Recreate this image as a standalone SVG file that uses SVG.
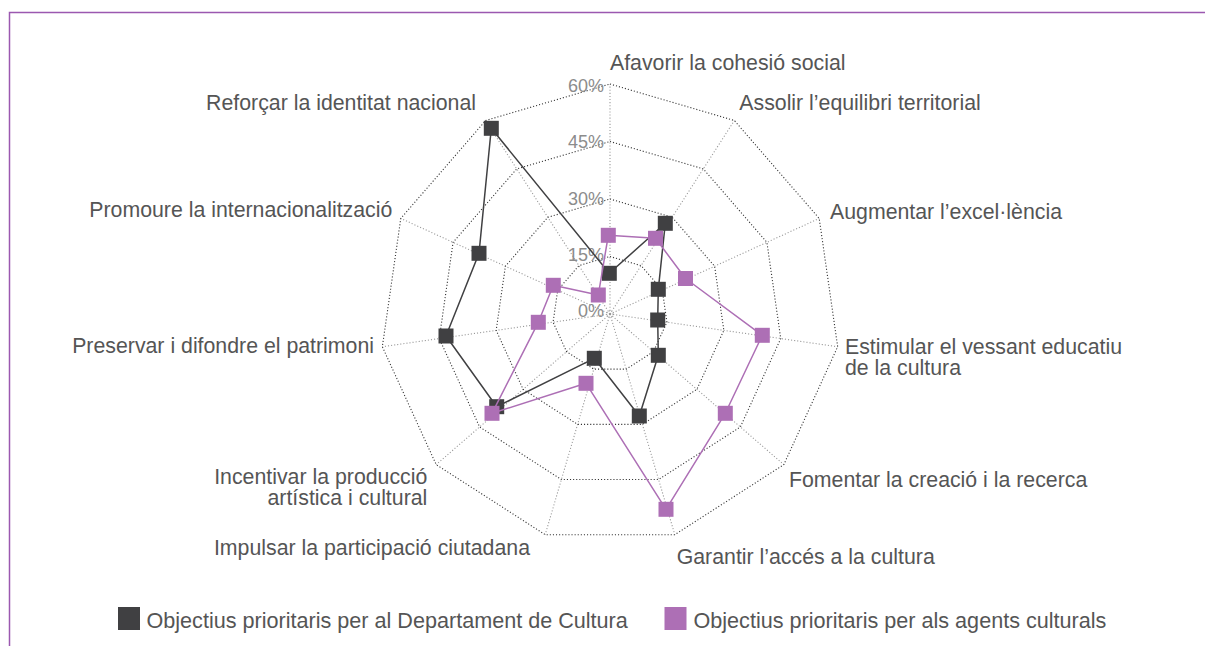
<svg xmlns="http://www.w3.org/2000/svg" width="1205" height="646" viewBox="0 0 1205 646">
<style>
.lbl{font-family:"Liberation Sans",Arial,sans-serif;font-size:21.3px;fill:#555}
.leg{font-family:"Liberation Sans",Arial,sans-serif;font-size:21.6px;fill:#555}
.pct{font-family:"Liberation Sans",Arial,sans-serif;font-size:18px;fill:#8c8c8c;text-anchor:end}
.ring{fill:none;stroke:#333;stroke-width:1.1;stroke-dasharray:1.1 2}
.spoke{stroke:#999;stroke-width:1.1;stroke-dasharray:1.1 2}
.dk{fill:#404042}
.pu{fill:#ad6fb5}
.dkl{fill:none;stroke:#404042;stroke-width:1.5;stroke-linejoin:round}
.pul{fill:none;stroke:#ad6fb5;stroke-width:1.5;stroke-linejoin:round}
.frame{stroke:#9b58b0;stroke-width:1.5;fill:none}
</style>
<rect width="1205" height="646" fill="#fff"/>
<path class="frame" d="M9.5,646 V12.5 H1205"/>

<g id="grid">
<g id="spokes">
<line class="spoke" x1="610" y1="314" x2="610" y2="84"/>
<line class="spoke" x1="610" y1="314" x2="734.35" y2="120.51"/>
<line class="spoke" x1="610" y1="314" x2="819.22" y2="218.45"/>
<line class="spoke" x1="610" y1="314" x2="837.66" y2="346.73"/>
<line class="spoke" x1="610" y1="314" x2="783.82" y2="464.62"/>
<line class="spoke" x1="610" y1="314" x2="674.8" y2="534.68"/>
<line class="spoke" x1="610" y1="314" x2="545.2" y2="534.68"/>
<line class="spoke" x1="610" y1="314" x2="436.18" y2="464.62"/>
<line class="spoke" x1="610" y1="314" x2="382.34" y2="346.73"/>
<line class="spoke" x1="610" y1="314" x2="400.78" y2="218.45"/>
<line class="spoke" x1="610" y1="314" x2="485.65" y2="120.51"/>
</g>
<circle cx="610" cy="314" r="3" fill="none" stroke="#999" stroke-width="1" stroke-dasharray="1 1.5"/>
<polygon class="ring" points="610,256.5 641.09,265.63 662.3,290.11 666.91,322.18 653.46,351.65 626.2,369.17 593.8,369.17 566.54,351.65 553.09,322.18 557.7,290.11 578.91,265.63"/>
<polygon class="ring" points="610,199 672.17,217.26 714.61,266.23 723.83,330.37 696.91,389.31 642.4,424.34 577.6,424.34 523.09,389.31 496.17,330.37 505.39,266.23 547.83,217.26"/>
<polygon class="ring" points="610,141.5 703.26,168.88 766.91,242.34 780.74,338.55 740.37,426.96 658.6,479.51 561.4,479.51 479.63,426.96 439.26,338.55 453.09,242.34 516.74,168.88"/>
<polygon class="ring" points="610,84 734.35,120.51 819.22,218.45 837.66,346.73 783.82,464.62 674.8,534.68 545.2,534.68 436.18,464.62 382.34,346.73 400.78,218.45 485.65,120.51"/>
<g id="scale">
<text class="pct" x="604" y="92">60%</text>
<text class="pct" x="604" y="148">45%</text>
<text class="pct" x="604" y="205">30%</text>
<text class="pct" x="604" y="261">15%</text>
<text class="pct" x="604" y="317">0%</text>
</g>
</g>

<g id="connectors">
<polygon id="line-departament" class="dkl" points="609.3,273.3 665.3,223.3 658.3,289.3 657.7,320 658.3,355.3 639.3,416 594.3,358.3 496.7,406.7 446,336 479,253.3 491.3,128.3"/>
</g>
<g id="series-departament">
<rect class="dk" x="601.8" y="265.8" width="15" height="15"/>
<rect class="dk" x="657.8" y="215.8" width="15" height="15"/>
<rect class="dk" x="650.8" y="281.8" width="15" height="15"/>
<rect class="dk" x="650.2" y="312.5" width="15" height="15"/>
<rect class="dk" x="650.8" y="347.8" width="15" height="15"/>
<rect class="dk" x="631.8" y="408.5" width="15" height="15"/>
<rect class="dk" x="586.8" y="350.8" width="15" height="15"/>
<rect class="dk" x="489.2" y="399.2" width="15" height="15"/>
<rect class="dk" x="438.5" y="328.5" width="15" height="15"/>
<rect class="dk" x="471.5" y="245.8" width="15" height="15"/>
<rect class="dk" x="483.8" y="120.8" width="15" height="15"/>
</g>
<g id="connectors-agents">
<polygon id="line-agents" class="pul" points="608.3,235.3 655.5,238.3 685.5,278.5 762.3,335.3 725.3,413.3 666,509.3 586,383.3 492,413.3 538.3,322.3 553.3,285.3 598.3,295"/>
</g>
<g id="series-agents">
<rect class="pu" x="600.8" y="227.8" width="15" height="15"/>
<rect class="pu" x="648" y="230.8" width="15" height="15"/>
<rect class="pu" x="678" y="271" width="15" height="15"/>
<rect class="pu" x="754.8" y="327.8" width="15" height="15"/>
<rect class="pu" x="717.8" y="405.8" width="15" height="15"/>
<rect class="pu" x="658.5" y="501.8" width="15" height="15"/>
<rect class="pu" x="578.5" y="375.8" width="15" height="15"/>
<rect class="pu" x="484.5" y="405.8" width="15" height="15"/>
<rect class="pu" x="530.8" y="314.8" width="15" height="15"/>
<rect class="pu" x="545.8" y="277.8" width="15" height="15"/>
<rect class="pu" x="590.8" y="287.5" width="15" height="15"/>
</g>

<g id="axis-labels">
<g id="lbl-afavorir"><text class="lbl" x="610" y="70">Afavorir la cohesió social</text></g>
<g id="lbl-assolir"><text class="lbl" x="739.3" y="109.5">Assolir l’equilibri territorial</text></g>
<g id="lbl-augmentar"><text class="lbl" x="830" y="218.5">Augmentar l’excel·lència</text></g>
<g id="lbl-estimular"><text class="lbl" x="845" y="353.5">Estimular el vessant educatiu<tspan x="845" dy="21.7">de la cultura</tspan></text></g>
<g id="lbl-fomentar"><text class="lbl" x="789" y="487">Fomentar la creació i la recerca</text></g>
<g id="lbl-garantir"><text class="lbl" x="676.7" y="563.5">Garantir l’accés a la cultura</text></g>
<g id="lbl-impulsar"><text class="lbl" x="530" y="555" text-anchor="end">Impulsar la participació ciutadana</text></g>
<g id="lbl-incentivar"><text class="lbl" x="427.3" y="483.5" text-anchor="end">Incentivar la producció<tspan x="427.3" dy="21.5">artística i cultural</tspan></text></g>
<g id="lbl-preservar"><text class="lbl" x="374" y="352.7" text-anchor="end">Preservar i difondre el patrimoni</text></g>
<g id="lbl-promoure"><text class="lbl" x="392.3" y="217" text-anchor="end">Promoure la internacionalització</text></g>
<g id="lbl-reforcar"><text class="lbl" x="476" y="110" text-anchor="end">Reforçar la identitat nacional</text></g>
</g>

<g id="legend">
<g id="legend-departament">
<rect class="dk" x="118" y="607" width="22" height="23"/>
<text class="leg" x="146.5" y="628">Objectius prioritaris per al Departament de Cultura</text>
</g>
<g id="legend-agents">
<rect class="pu" x="664.5" y="607" width="22" height="23"/>
<text class="leg" x="693.5" y="628">Objectius prioritaris per als agents culturals</text>
</g>
</g>
</svg>
